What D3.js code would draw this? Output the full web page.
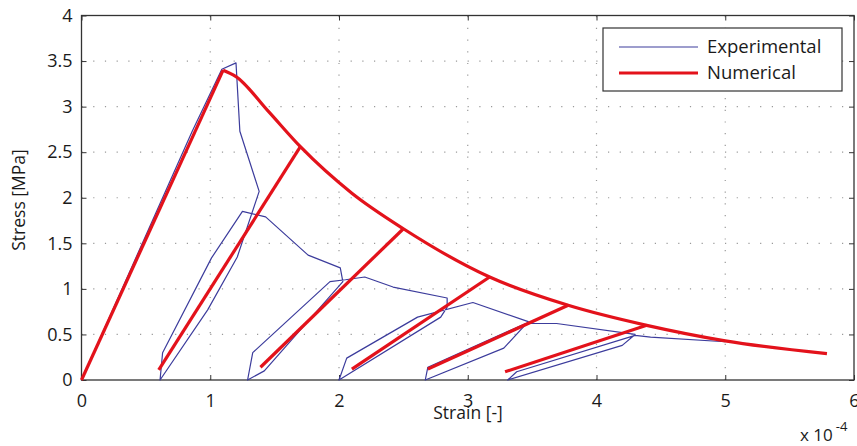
<!DOCTYPE html>
<html>
<head>
<meta charset="utf-8">
<script src="https://cdn.jsdelivr.net/npm/d3@7"></script>
<style>
  body { margin: 0; background: #fff; }
  text { font-family: "Open Sans", sans-serif; fill: #1a1a1a; }
</style>
</head>
<body>
<svg id="chart" width="857" height="446"></svg>
<script>
// ticks
const xTicks = [0, 1, 2, 3, 4, 5, 6]
const yTicks = [0, 0.5, 1, 1.5, 2, 2.5, 3, 3.5, 4]

// experimental cyclic test, strain (x1e-4) / stress (MPa)
const experimental = [
  [0, 0], [0.86, 2.73], [1.09, 3.41], [1.2, 3.48], [1.23, 2.73], [1.38, 2.07],
  [1.21, 1.35], [0.98, 0.77], [0.61, 0], [0.63, 0.3], [1.01, 1.34], [1.25, 1.85],
  [1.43, 1.79], [1.76, 1.37], [2.01, 1.23], [2.03, 1.08], [1.42, 0.1], [1.29, 0],
  [1.33, 0.3], [1.93, 1.08], [2.05, 1.1], [2.2, 1.13], [2.42, 1.02], [2.84, 0.9],
  [2.84, 0.8], [2.79, 0.69], [2.0, 0], [2.06, 0.24], [2.61, 0.69], [3.04, 0.85],
  [3.47, 0.64], [3.28, 0.35], [2.67, 0], [2.69, 0.14], [3.45, 0.62], [3.69, 0.62],
  [4.3, 0.5], [4.2, 0.38], [3.31, 0], [3.38, 0.09], [4.3, 0.49], [4.42, 0.47], [5.0, 0.42]
]

// numerical model: elastic loading, softening envelope, unload/reload branches
const numLoading = [[0, 0], [1.1, 3.4]]
const numEnvelope = [
  [1.1, 3.4], [1.2, 3.33], [1.45, 2.95], [1.7, 2.56], [2.1, 2.05], [2.5, 1.66],
  [3.17, 1.13], [3.78, 0.82], [4.39, 0.6], [5.0, 0.43], [5.79, 0.29]
]
const numBranches = [
  [[0.6, 0.11], [1.7, 2.56]],
  [[1.39, 0.14], [2.5, 1.66]],
  [[2.1, 0.12], [3.17, 1.13]],
  [[2.69, 0.12], [3.78, 0.82]],
  [[3.29, 0.09], [4.39, 0.6]]
]

const legendItems = [
  { name: 'Experimental', color: '#3c3c9c', width: 1.2 },
  { name: 'Numerical', color: '#e3121b', width: 3.2 }
]

const svg = d3.select('#chart')
const x = d3.scaleLinear().domain([0, 6]).range([81.5, 854])
const y = d3.scaleLinear().domain([0, 4]).range([380, 15.5])

// dotted grid
const grid = svg.append('g').attr('stroke', '#9a9a9a').attr('stroke-dasharray', '1.2,10.5').attr('stroke-width', 1.2)
grid.selectAll('.gx').data(xTicks.slice(1, -1)).join('line')
  .attr('x1', d => x(d)).attr('x2', d => x(d)).attr('y1', y(0)).attr('y2', y(4))
grid.selectAll('.gy').data(yTicks.slice(1, -1)).join('line')
  .attr('x1', x(0)).attr('x2', x(6)).attr('y1', d => y(d)).attr('y2', d => y(d))

// axes, ticks pointing inside like matlab
const fmt = d => d3.format('~g')(d)
const axB = svg.append('g').attr('transform', `translate(0,${y(0)})`)
  .call(d3.axisBottom(x).tickValues(xTicks).tickSize(-5).tickPadding(14).tickFormat(fmt))
const axL = svg.append('g').attr('transform', `translate(${x(0)},0)`)
  .call(d3.axisLeft(y).tickValues(yTicks).tickSize(-5).tickPadding(9).tickFormat(fmt))
const axT = svg.append('g').attr('transform', `translate(0,${y(4)})`)
  .call(d3.axisTop(x).tickValues(xTicks).tickSize(-5).tickFormat(''))
const axR = svg.append('g').attr('transform', `translate(${x(6)},0)`)
  .call(d3.axisRight(y).tickValues(yTicks).tickSize(-5).tickFormat(''))
;[axB, axL, axT, axR].forEach(a => {
  a.select('.domain').remove()
  a.selectAll('line').attr('stroke', '#333')
  a.selectAll('text').style('font-size', '18px').attr('fill', '#1a1a1a')
})
svg.append('rect').attr('x', x(0)).attr('y', y(4)).attr('width', x(6) - x(0)).attr('height', y(0) - y(4))
  .attr('fill', 'none').attr('stroke', '#333').attr('stroke-width', 1.3)

// curves
const line = d3.line().x(d => x(d[0])).y(d => y(d[1]))
const plot = svg.append('g')
plot.append('path').datum(experimental).attr('d', line)
  .attr('fill', 'none').attr('stroke', legendItems[0].color).attr('stroke-width', legendItems[0].width)
  .attr('stroke-linejoin', 'round')

const red = plot.append('g').attr('fill', 'none').attr('stroke', legendItems[1].color)
  .attr('stroke-width', legendItems[1].width).attr('stroke-linejoin', 'round')
red.append('path').datum(numLoading).attr('d', line)
red.append('path').datum(numEnvelope).attr('d', line.curve(d3.curveMonotoneX))
line.curve(d3.curveLinear)
red.selectAll('.branch').data(numBranches).join('path').attr('d', line)

// labels
svg.append('text').attr('x', 468).attr('y', 419).attr('text-anchor', 'middle')
  .style('font-size', '17.5px').text('Strain [-]')
svg.append('text').attr('transform', 'translate(25,200) rotate(-90)').attr('text-anchor', 'middle')
  .style('font-size', '17.5px').text('Stress [MPa]')
const mult = svg.append('text').attr('x', 800).attr('y', 441).style('font-size', '17px')
mult.append('tspan').text('x 10')
mult.append('tspan').attr('dx', 3).attr('dy', -10).style('font-size', '13px').text('-4')

// legend
const leg = svg.append('g')
leg.append('rect').attr('x', 603).attr('y', 28).attr('width', 239).attr('height', 63)
  .attr('fill', '#fff').attr('stroke', '#333').attr('stroke-width', 1.2)
const li = leg.selectAll('.li').data(legendItems).join('g')
  .attr('transform', (d, i) => `translate(0,${47 + i * 26})`)
li.append('line').attr('x1', 619).attr('x2', 698)
  .attr('stroke', d => d.color).attr('stroke-width', d => d.width)
li.append('text').attr('x', 707).attr('dy', '0.35em').style('font-size', '18.5px').text(d => d.name)
</script>
</body>
</html>
